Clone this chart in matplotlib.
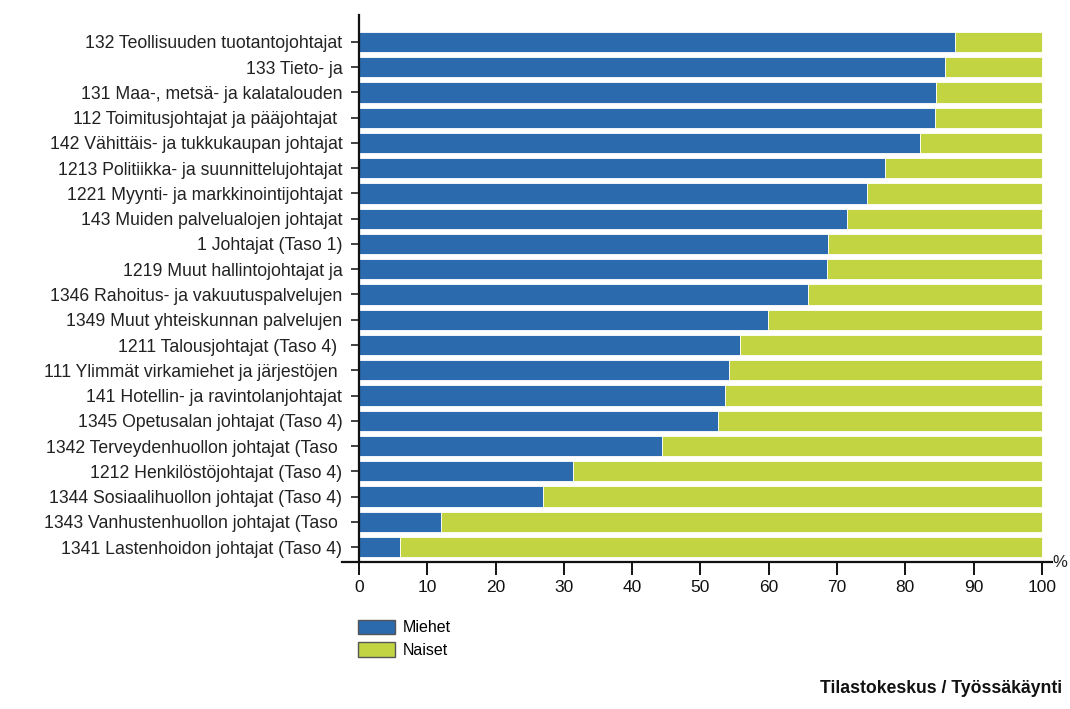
import numpy as np
import matplotlib.pyplot as plt
from matplotlib.patches import Patch

plt.rcParams['font.family'] = ['Liberation Sans', 'DejaVu Sans']

# Ammattiryhmät ja miesten osuus (%)
ryhmat = [
    '132 Teollisuuden tuotantojohtajat',
    '133 Tieto- ja',
    '131 Maa-, metsä- ja kalatalouden',
    '112 Toimitusjohtajat ja pääjohtajat ',
    '142 Vähittäis- ja tukkukaupan johtajat',
    '1213 Politiikka- ja suunnittelujohtajat',
    '1221 Myynti- ja markkinointijohtajat',
    '143 Muiden palvelualojen johtajat',
    '1 Johtajat (Taso 1)',
    '1219 Muut hallintojohtajat ja',
    '1346 Rahoitus- ja vakuutuspalvelujen',
    '1349 Muut yhteiskunnan palvelujen',
    '1211 Talousjohtajat (Taso 4) ',
    '111 Ylimmät virkamiehet ja järjestöjen ',
    '141 Hotellin- ja ravintolanjohtajat',
    '1345 Opetusalan johtajat (Taso 4)',
    '1342 Terveydenhuollon johtajat (Taso ',
    '1212 Henkilöstöjohtajat (Taso 4)',
    '1344 Sosiaalihuollon johtajat (Taso 4)',
    '1343 Vanhustenhuollon johtajat (Taso ',
    '1341 Lastenhoidon johtajat (Taso 4)',
]
miehet = [87.3, 85.8, 84.5, 84.3, 82.1, 77.0, 74.4, 71.4, 68.7, 68.6, 65.7,
          59.9, 55.8, 54.2, 53.6, 52.6, 44.4, 31.3, 26.9, 12.0, 6.0]
naiset = [100 - m for m in miehet]

sininen = '#2a6aad'
vihrea = '#c3d443'

fig = plt.figure(figsize=(10.7, 7.09), dpi=100)
ax = fig.add_axes([0.3196, 0.207, 0.6636, 0.772])

y = np.arange(len(ryhmat))
ax.barh(y, miehet, height=0.8, color=sininen, edgecolor='white', linewidth=0.6)
ax.barh(y, naiset, left=miehet, height=0.8, color=vihrea, edgecolor='white', linewidth=0.6)

ax.set_xlim(-2.5, 101.5)
ax.set_ylim(len(ryhmat) - 1 + 0.6, -1.07)

ax.spines['left'].set_position(('data', 0))
ax.spines['top'].set_visible(False)
ax.spines['right'].set_visible(False)
for s in ('left', 'bottom'):
    ax.spines[s].set_linewidth(1.6)
    ax.spines[s].set_color('#111111')

ax.set_yticks(y)
ax.set_yticklabels(ryhmat, fontsize=12.7, color='#222222')
ax.set_xticks(np.arange(0, 101, 10))
ax.tick_params(axis='x', direction='out', length=9, width=1.4, labelsize=12.5, pad=4,
               colors='#111111')
ax.tick_params(axis='y', direction='out', length=6, width=1.2, pad=6, colors='#222222')

ax.text(101.6, len(ryhmat) - 1 + 0.6, '%', fontsize=12, va='center', ha='left',
        color='#222222')

fig.legend(handles=[Patch(facecolor=sininen, edgecolor='#555555', label='Miehet'),
                    Patch(facecolor=vihrea, edgecolor='#555555', label='Naiset')],
           loc='upper left', bbox_to_anchor=(0.329, 0.135), frameon=False,
           fontsize=11.5, handlelength=2.3, handleheight=1.0, handletextpad=0.5,
           labelspacing=0.45, borderaxespad=0)

fig.text(0.993, 0.017, 'Tilastokeskus / Työssäkäynti', fontsize=12.7, fontweight='bold',
         ha='right', va='bottom', color='#111111')

fig.savefig('out.png', dpi=100)
